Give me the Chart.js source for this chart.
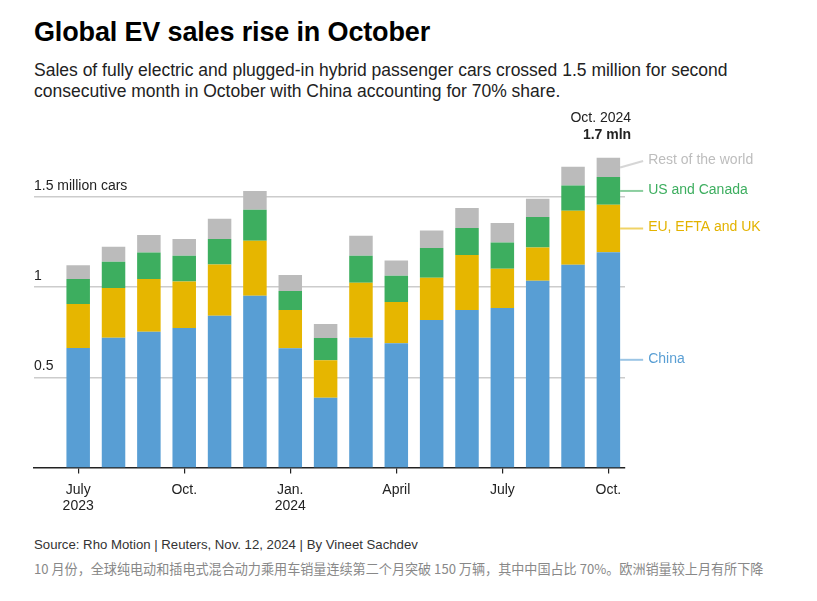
<!DOCTYPE html>
<html>
<head>
<meta charset="utf-8">
<script src="https://cdn.jsdelivr.net/npm/chart.js@4.4.1/dist/chart.umd.min.js"></script>
<style>
  body { margin: 0; width: 817px; height: 601px; background: #fff; position: relative; overflow: hidden;
         font-family: "Liberation Sans", Arial, Helvetica, sans-serif; color: #222; }
  #titulo { position: absolute; left: 34px; top: 17px; margin: 0; font-size: 27px; font-weight: bold;
            letter-spacing: -0.15px; color: #000; }
  #subtitulo { position: absolute; left: 34px; top: 60px; margin: 0; font-size: 17.5px; line-height: 21px;
               color: #222; width: 780px; }
  #grafico { position: absolute; left: 0; top: 100px; width: 817px; height: 430px; }
  #fuente { position: absolute; left: 34px; top: 537px; font-size: 13.2px; color: #333; }
  #nota { position: absolute; left: 34px; top: 559px; font-size: 13.1px; color: #888;
          font-family: "Noto Sans CJK SC", "Liberation Sans", sans-serif; }
</style>
</head>
<body>
<h1 id="titulo">Global EV sales rise in October</h1>
<p id="subtitulo">Sales of fully electric and plugged-in hybrid passenger cars crossed 1.5 million for second<br>consecutive month in October with China accounting for 70% share.</p>
<div id="grafico"><canvas id="graficoEV"></canvas></div>
<div id="fuente">Source: Rho Motion | Reuters, Nov. 12, 2024 | By Vineet Sachdev</div>
<div id="nota">10 月份，全球纯电动和插电式混合动力乘用车销量连续第二个月突破 150 万辆，其中中国占比 70%。欧洲销量较上月有所下降</div>

<script>
// Meses (julio 2023 - octubre 2024), ventas en millones
const meses = ["2023-07","2023-08","2023-09","2023-10","2023-11","2023-12",
               "2024-01","2024-02","2024-03","2024-04","2024-05","2024-06",
               "2024-07","2024-08","2024-09","2024-10"];
const etiquetasEje = [["July","2023"],"","",["Oct."],"","",["Jan.","2024"],"","",
                      ["April"],"","",["July"],"","",["Oct."]];

const china  = [0.663,0.720,0.752,0.774,0.841,0.952,0.661,0.387,0.720,0.689,0.818,0.874,0.885,1.035,1.124,1.194];
const europa = [0.243,0.276,0.294,0.257,0.285,0.305,0.213,0.207,0.304,0.229,0.234,0.305,0.217,0.185,0.300,0.263];
const usaCan = [0.140,0.145,0.146,0.143,0.142,0.172,0.105,0.124,0.150,0.145,0.166,0.150,0.146,0.169,0.140,0.154];
const resto  = [0.076,0.083,0.098,0.094,0.111,0.104,0.089,0.078,0.111,0.085,0.096,0.111,0.108,0.101,0.104,0.107];

const valoresEjeY = [0.5, 1, 1.5];
const etiquetasEjeY = {0.5: "0.5", 1: "1", 1.5: "1.5 million cars"};

const series = [
    { nombre: "China",             datos: china,  color: "#589ed4" },
    { nombre: "EU, EFTA and UK",   datos: europa, color: "#e6b600" },
    { nombre: "US and Canada",     datos: usaCan, color: "#3dae5f" },
    { nombre: "Rest of the world", datos: resto,  color: "#bbbbbb" }
];
const coloresTexto = ["#5a9fd4", "#e3b300", "#3dae5f", "#bdbdbd"];

// Etiquetas a la derecha de la última barra, con líneas de unión
const pluginEtiquetas = {
    id: 'etiquetasDerecha',
    afterDatasetsDraw(chart) {
        const ctx = chart.ctx;
        const y = chart.scales.y;
        const ultimo = meses.length - 1;
        const barra = chart.getDatasetMeta(0).data[ultimo];
        const derecha = barra.x + barra.width / 2;
        let acumulado = 0;
        let posiciones = [];
        series.forEach((s) => {
            const base = acumulado;
            acumulado += s.datos[ultimo];
            posiciones.push(y.getPixelForValue((base + acumulado) / 2));
        });
        let etiquetasY = posiciones.slice();
        for (let i = 1; i < etiquetasY.length; i++) {
            if (etiquetasY[i - 1] - etiquetasY[i] < 30) etiquetasY[i] = etiquetasY[i - 1] - 30;
        }
        ctx.save();
        ctx.font = '14px "Liberation Sans", Arial, sans-serif';
        ctx.textBaseline = 'middle';
        ctx.textAlign = 'left';
        series.forEach((s, i) => {
            ctx.strokeStyle = s.color;
            ctx.globalAlpha = 0.6;
            ctx.lineWidth = 2;
            ctx.beginPath();
            ctx.moveTo(derecha, posiciones[i]);
            ctx.lineTo(derecha + 23, etiquetasY[i]);
            ctx.stroke();
            ctx.globalAlpha = 1;
            ctx.fillStyle = coloresTexto[i];
            ctx.fillText(s.nombre, derecha + 28, etiquetasY[i] - 1);
        });

        // Total del último mes
        const total = acumulado;
        ctx.textAlign = 'right';
        ctx.fillStyle = '#222';
        ctx.font = '14px "Liberation Sans", Arial, sans-serif';
        ctx.fillText("Oct. 2024", derecha + 11, y.getPixelForValue(total) - 40);
        ctx.font = 'bold 14px "Liberation Sans", Arial, sans-serif';
        ctx.fillText(total.toFixed(1) + " mln", derecha + 11, y.getPixelForValue(total) - 23);
        ctx.restore();
    }
};

const datasets = series.map(s => ({
    label: s.nombre,
    data: s.datos.map((v, i) => ({ x: i, y: v })),
    backgroundColor: s.color,
    barPercentage: 0.665,
    categoryPercentage: 1
}));

new Chart(document.getElementById('graficoEV'), {
    type: 'bar',
    data: { datasets: datasets },
    plugins: [pluginEtiquetas],
    options: {
        responsive: true,
        maintainAspectRatio: false,
        animation: false,
        layout: { padding: { left: 34, right: 192, top: 43, bottom: 7 } },
        plugins: { legend: { display: false }, tooltip: { enabled: false } },
        scales: {
            x: {
                type: 'linear',
                stacked: true,
                offset: false,
                min: -1.25,
                max: 15.47,
                afterBuildTicks: (escala) => {
                    escala.ticks = meses.map((m, i) => ({ value: i }))
                        .filter(t => etiquetasEje[t.value] !== "");
                },
                ticks: {
                    autoSkip: false,
                    maxRotation: 0,
                    color: '#222',
                    padding: 8,
                    font: { family: '"Liberation Sans", Arial, sans-serif', size: 14 },
                    callback: (valor) => etiquetasEje[valor]
                },
                grid: { offset: false, drawOnChartArea: false, drawTicks: true, tickLength: 6, tickColor: '#222', lineWidth: 1.2 },
                border: { display: true, color: '#222', width: 1.5 }
            },
            y: {
                stacked: true,
                min: 0,
                max: 1.8,
                afterBuildTicks: (escala) => {
                    escala.ticks = valoresEjeY.map(v => ({ value: v }));
                },
                ticks: {
                    mirror: true,
                    padding: 0,
                    labelOffset: -11,
                    color: '#222',
                    font: { family: '"Liberation Sans", Arial, sans-serif', size: 14 },
                    callback: (valor) => etiquetasEjeY[valor]
                },
                grid: { color: '#cccccc', lineWidth: 1.5, drawTicks: false },
                border: { display: false }
            }
        }
    }
});
</script>
</body>
</html>
